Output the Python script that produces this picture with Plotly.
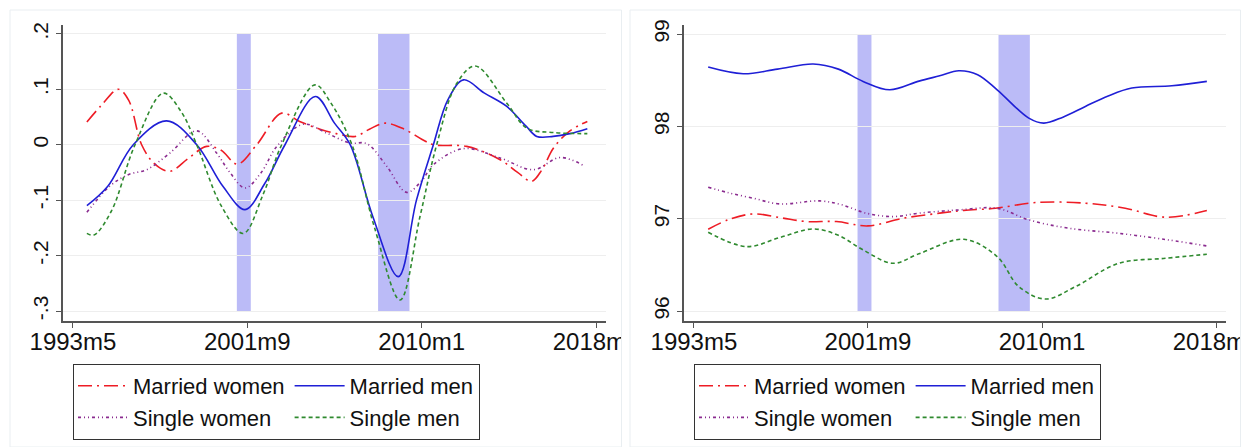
import plotly.graph_objects as go

# ---------------- data (x = Stata monthly index, 1993m5 = 400) ----------------
tick_vals = [400, 500, 600, 700]
tick_text = ["1993m5", "2001m9", "2010m1", "2018m5"]
recession_start = [494, 575]
recession_end = [502, 593]

# left panel
lw_m = [408, 416, 426, 432, 439.4, 447, 455.6, 466, 476.7, 485, 494.3, 505.4, 519.7, 530, 541.7, 551,
        561.8, 570, 579, 590, 600, 606.7, 625.8, 645, 655, 663, 669, 675.6, 685, 695]
lw_v = [0.041, 0.07, 0.100, 0.08, 0.0, -0.035, -0.048, -0.025, -0.003, -0.01, -0.035, 0.0, 0.057, 0.042,
        0.028, 0.02, 0.015, 0.028, 0.039, 0.028, 0.01, 0.0, -0.003, -0.027, -0.05, -0.066, -0.045, -0.006,
        0.025, 0.042]
lm_m = [408, 420, 434.6, 453.7, 471, 486, 498.7, 510, 521.6, 539, 550, 559, 572, 586.6, 597, 606.7, 615,
        624, 636, 648.8, 660, 666, 675.4, 685, 695]
lm_v = [-0.110, -0.075, 0.0, 0.043, 0.0, -0.075, -0.117, -0.07, 0.0, 0.087, 0.039, 0.0, -0.13, -0.238,
        -0.10, 0.0, 0.081, 0.117, 0.093, 0.069, 0.033, 0.015, 0.015, 0.02, 0.029]
ls_w_m = [408, 421, 431.7, 442.3, 455.6, 471, 482.4, 490, 498.7, 508, 516.9, 532.1, 545.5, 558.9, 568.5,
          580, 591.4, 600, 606.7, 624, 645, 664, 679.5, 693.7]
ls_w_v = [-0.122, -0.075, -0.054, -0.045, -0.015, 0.025, -0.015, -0.05, -0.078, -0.05, -0.003, 0.037,
          0.021, 0.003, 0.002, -0.039, -0.086, -0.065, -0.036, -0.007, -0.024, -0.045, -0.023, -0.039]
lsm_m = [408, 412, 422, 435.6, 451.8, 462, 471, 485, 497.7, 509, 519.7, 538.8, 548, 560, 573, 587.6, 599,
         608.6, 620, 630.7, 648.8, 660.3, 675.6, 695]
lsm_v = [-0.160, -0.163, -0.12, 0.0, 0.093, 0.06, 0.0, -0.11, -0.160, -0.09, 0.0, 0.108, 0.075, 0.0,
         -0.15, -0.280, -0.13, 0.0, 0.11, 0.142, 0.075, 0.030, 0.022, 0.020]

# right panel
rw_m = [408.2, 420, 434, 450, 464.7, 481.9, 500, 520.1, 541.2, 555, 573.3, 596.2, 624.9, 647.8, 670.8, 694.7]
rw_v = [96.886, 96.99, 97.052, 97.01, 96.969, 96.969, 96.922, 97.005, 97.06, 97.09, 97.113, 97.175,
        97.168, 97.113, 97.016, 97.088]
rm_m = [408.2, 428.3, 448, 468.5, 483, 497.2, 512.5, 529.3, 541.2, 552.2, 563, 574.2, 592.4, 601, 612,
        624.9, 638, 651.6, 674.6, 694.7]
rm_v = [98.642, 98.570, 98.62, 98.675, 98.62, 98.487, 98.396, 98.49, 98.548, 98.602, 98.56, 98.396,
        98.089, 98.035, 98.10, 98.216, 98.33, 98.415, 98.440, 98.487]
rsw_m = [408.2, 420, 434, 449.3, 472.3, 485, 499.1, 514.4, 529.3, 552.2, 574.2, 592.4, 615.3, 644, 672.7, 694.7]
rsw_v = [97.341, 97.28, 97.222, 97.160, 97.193, 97.15, 97.059, 97.023, 97.06, 97.095, 97.113, 96.987,
         96.897, 96.842, 96.770, 96.705]
rsm_m = [408.2, 430.2, 450, 468.5, 483, 497.2, 514.4, 529.3, 555.1, 574.2, 586.7, 602, 619.2, 644, 670.8, 694.7]
rsm_v = [96.853, 96.698, 96.8, 96.889, 96.82, 96.662, 96.517, 96.62, 96.777, 96.590, 96.264, 96.130,
         96.264, 96.517, 96.571, 96.615]

names = ["Married women", "Married men", "Single women", "Single men"]
colors = ["#ee1c25", "#1f1fd6", "#8a2b8f", "#2f8a2f"]
dashes = ["14px,5px,2px,5px", "solid", "3px,3px,1px,3px,1px,3px", "4px,3px"]
groups = ["w", "m", "w", "m"]

FONT = "Liberation Sans, Arial, sans-serif"
W, H = 1245, 447

fig = go.Figure()

left = [(lw_m, lw_v), (lm_m, lm_v), (ls_w_m, ls_w_v), (lsm_m, lsm_v)]
right = [(rw_m, rw_v), (rm_m, rm_v), (rsw_m, rsw_v), (rsm_m, rsm_v)]
order = [0, 2, 1, 3]
for i in order:
    fig.add_trace(go.Scatter(x=left[i][0], y=left[i][1], mode="lines", name=names[i],
                             line=dict(color=colors[i], width=1.6, dash=dashes[i], shape="spline", smoothing=1.0),
                             xaxis="x", yaxis="y", legend="legend", legendgroup="L" + groups[i]))
for i in order:
    fig.add_trace(go.Scatter(x=right[i][0], y=right[i][1], mode="lines", name=names[i],
                             line=dict(color=colors[i], width=1.6, dash=dashes[i], shape="spline", smoothing=1.0),
                             xaxis="x2", yaxis="y2", legend="legend2", legendgroup="R" + groups[i]))

def px_x(p):
    return p / W

def px_y(p):
    return 1 - p / H

xdom1 = [px_x(63), px_x(606)]
xdom2 = [px_x(684), px_x(1226)]
ydom = [px_y(321), px_y(25)]

xcommon = dict(range=[394.3, 705.7], tickvals=tick_vals, ticktext=tick_text, showgrid=False, zeroline=False,
               automargin=False, ticklabeloverflow="allow", ticklabelstandoff=-7,
               showline=True, linecolor="#555555", linewidth=1.5, ticks="outside", ticklen=5, tickwidth=1.3,
               tickcolor="#555555", tickfont=dict(family=FONT, size=24, color="#111111"))
ycommon = dict(showgrid=True, gridcolor="#eeeeee", gridwidth=1, zeroline=False, showline=True,
               automargin=False,
               linecolor="#555555", linewidth=1.5, ticks="outside", ticklen=5, tickwidth=1.3,
               tickcolor="#555555", tickangle=-90, tickfont=dict(family=FONT, size=21, color="#111111"))

fig.update_layout(
    template="none",
    width=W, height=H, margin=dict(l=0, r=0, t=0, b=0, autoexpand=False),
    paper_bgcolor="white", plot_bgcolor="white",
    xaxis=dict(domain=xdom1, anchor="y", **xcommon),
    yaxis=dict(domain=ydom, anchor="x", range=[-0.318, 0.216], tickvals=[-0.3, -0.2, -0.1, 0, 0.1, 0.2],
               ticktext=["-.3", "-.2", "-.1", "0", ".1", ".2"], **ycommon),
    xaxis2=dict(domain=xdom2, anchor="y2", **xcommon),
    yaxis2=dict(domain=ydom, anchor="x2", range=[95.892, 99.098], tickvals=[96, 97, 98, 99],
                ticktext=["96", "97", "98", "99"], **ycommon),
    legend=dict(x=px_x(73), y=px_y(364), xanchor="left", yanchor="top", orientation="h",
                traceorder="grouped", tracegroupgap=10, itemwidth=50,
                bordercolor="#333333", borderwidth=1, bgcolor="white",
                font=dict(family=FONT, size=22, color="#111111")),
    legend2=dict(x=px_x(694), y=px_y(364), xanchor="left", yanchor="top", orientation="h",
                 traceorder="grouped", tracegroupgap=10, itemwidth=50,
                 bordercolor="#333333", borderwidth=1, bgcolor="white",
                 font=dict(family=FONT, size=22, color="#111111")),
)

shapes = []
for s, e in zip(recession_start, recession_end):
    shapes.append(dict(type="rect", xref="x", yref="y", x0=s, x1=e, y0=-0.3, y1=0.2,
                       fillcolor="#bbbbf7", line=dict(width=0), layer="below"))
    shapes.append(dict(type="rect", xref="x2", yref="y2", x0=s, x1=e, y0=96, y1=99,
                       fillcolor="#bbbbf7", line=dict(width=0), layer="below"))
# panel clip strips (the long last tick label is cut at each panel's edge)
shapes.append(dict(type="rect", xref="paper", yref="paper", x0=px_x(622), x1=px_x(650), y0=px_y(365), y1=px_y(323),
                   fillcolor="white", line=dict(width=0), layer="above"))
shapes.append(dict(type="rect", xref="paper", yref="paper", x0=px_x(1241), x1=1, y0=px_y(365), y1=px_y(323),
                   fillcolor="white", line=dict(width=0), layer="above"))
# panel frames
shapes.append(dict(type="rect", xref="paper", yref="paper", x0=px_x(10), x1=px_x(621.5), y0=px_y(447), y1=px_y(10),
                   line=dict(color="#e9eef1", width=1), fillcolor="rgba(0,0,0,0)", layer="above"))
shapes.append(dict(type="rect", xref="paper", yref="paper", x0=px_x(630), x1=px_x(1240.5), y0=px_y(447), y1=px_y(10),
                   line=dict(color="#e9eef1", width=1), fillcolor="rgba(0,0,0,0)", layer="above"))
fig.update_layout(shapes=shapes)

fig.write_html("out.html")
